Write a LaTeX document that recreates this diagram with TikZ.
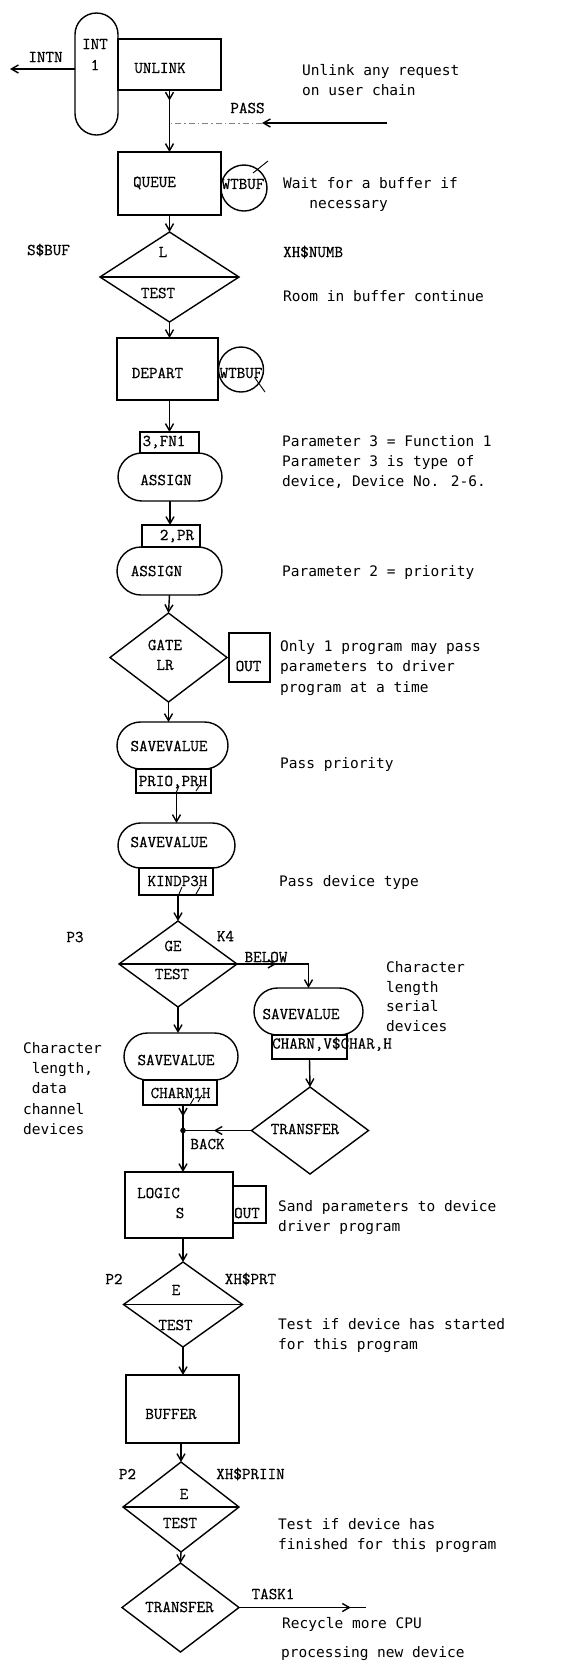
\documentclass[tikz,border=0pt]{standalone}
\usepackage{fontspec}
\usetikzlibrary{shapes.geometric,arrows.meta,decorations.markings}
\newfontfamily\lblfam[FakeBold=0.6]{Latin Modern Mono}
\newfontfamily\cmtfam{DejaVu Sans Mono}
\newcommand\lblfont{\lblfam\fontsize{16.6}{20}\selectfont}
\newcommand\cmtfont{\cmtfam\fontsize{14.5}{20}\selectfont}
\tikzset{
  shp/.style={draw, line width=1.4pt, inner sep=0pt, outer sep=0pt},
  blk/.style={shp, rectangle},
  pill/.style={shp, rectangle, rounded corners=#1},
  dia/.style={shp, diamond},
  lbl/.style={font=\lblfont, inner sep=0pt},
  cmt/.style={font=\cmtfont, inner sep=0pt, anchor=west, align=left},
  arr/.style={line width=1.4pt, -{Straight Barb[length=7pt,width=8pt]}},
  midarr/.style={line width=1.4pt, postaction={decorate},
    decoration={markings, mark=at position #1 with {\arrow{Straight Barb[length=7pt,width=8pt]}}}},
  tick/.style={line width=0.9pt},
}
\begin{document}
\begin{tikzpicture}[x=1pt,y=-1pt]
\useasboundingbox (0,0) rectangle (587,1666);

% ---- blocks of the main column ----
\node[shp, rounded corners=21.5pt, minimum width=43, minimum height=122] (int1) at (96.5,74) {};
\node[blk, minimum width=103, minimum height=51] (unlink) at (169.5,64.5) {};
\node[blk, minimum width=103, minimum height=63] (queue) at (169.5,183.5) {};
\node[shp, circle, minimum size=46] (wt1) at (244,188) {};
\node[dia, minimum width=139, minimum height=90] (d1) at (169.5,277) {};
\node[blk, minimum width=101, minimum height=62] (depart) at (167.5,369) {};
\node[shp, circle, minimum size=45] (wt2) at (241,369.5) {};
\node[blk, minimum width=59, minimum height=21] (fn1) at (169.5,442.5) {};
\node[pill=24pt, minimum width=104, minimum height=48] (assign1) at (170,477) {};
\node[blk, minimum width=58, minimum height=22] (pr) at (171,536) {};
\node[pill=24pt, minimum width=105, minimum height=48] (assign2) at (169.5,571) {};
\node[dia, minimum width=117, minimum height=89] (gate) at (168.5,657.5) {};
\node[blk, minimum width=41, minimum height=49] (out1) at (249.5,657.5) {};
\node[pill=23.5pt, minimum width=111, minimum height=47] (sv1) at (172.5,745.5) {};
\node[blk, minimum width=75, minimum height=24] (prio) at (173.5,781) {};
\node[pill=22.5pt, minimum width=117, minimum height=45] (sv2) at (176.5,845.5) {};
\node[blk, minimum width=74, minimum height=27] (kind) at (176,881.5) {};
\node[dia, minimum width=118, minimum height=86] (ge) at (178,964) {};
\node[pill=23.5pt, minimum width=109, minimum height=47] (svR) at (308.5,1011.5) {};
\node[blk, minimum width=75, minimum height=24] (charnv) at (309.5,1047) {};
\node[dia, minimum width=117, minimum height=87] (transR) at (310,1130.5) {};
\node[pill=23.5pt, minimum width=114, minimum height=47] (svL) at (181,1056.5) {};
\node[blk, minimum width=74, minimum height=25] (charn1) at (180,1092.5) {};
\node[blk, minimum width=108, minimum height=66] (logic) at (179,1205) {};
\node[blk, minimum width=33, minimum height=37] (out2) at (249.5,1204.5) {};
\node[dia, minimum width=119, minimum height=85] (e1) at (183,1304.5) {};
\node[blk, line width=2pt, minimum width=113, minimum height=68] (buffer) at (182.5,1409) {};
\node[dia, minimum width=116, minimum height=90] (e2) at (181,1507) {};
\node[dia, minimum width=117, minimum height=89] (trans2) at (180.5,1607.5) {};

% dividing lines of the test blocks
\draw[line width=1.4pt] (d1.west) -- (d1.east);
\draw[line width=1.4pt] (ge.west) -- (ge.east);
\draw[line width=1.4pt] (e1.west) -- (e1.east);
\draw[line width=1.4pt] (e2.west) -- (e2.east);

% strike marks on the WTBUF circles
\draw[line width=0.9pt] (253,173) -- (268,161);
\draw[line width=0.9pt] (255,378) -- (265,392);

% ---- block texts ----
\node[lbl] (tint) at (95,44) {INT};
\node[lbl] (tone) at (95,65) {1};
\node[lbl] (tunlink) at (160,68) {UNLINK};
\node[lbl] (tqueue) at (154.5,183) {QUEUE};
\node[lbl] (twt1) at (243,184) {WTBUF};
\node[lbl] (tl) at (163,252) {L};
\node[lbl] (ttest1) at (158,293) {TEST};
\node[lbl] (tdepart) at (157.5,373) {DEPART};
\node[lbl] (twt2) at (241,373) {WTBUF};
\node[lbl] (tfn1) at (164,442) {3,FN1};
\node[lbl] (tassign1) at (166,480) {ASSIGN};
\node[lbl] (tpr) at (177,536) {2,PR};
\node[lbl] (tassign2) at (156.5,571) {ASSIGN};
\node[lbl] (tgate) at (165,645) {GATE};
\node[lbl] (tlr) at (165,665) {LR};
\node[lbl] (tout1) at (248.5,666) {OUT};
\node[lbl] (tsv1) at (169,746) {SAVEVALUE};
\node[lbl] (tprio) at (173,782) {PRIO,PRH};
\node[lbl] (tsv2) at (169,842) {SAVEVALUE};
\node[lbl] (tkind) at (177.5,881) {KINDP3H};
\node[lbl] (tge) at (173,946) {GE};
\node[lbl] (ttest2) at (172,974) {TEST};
\node[lbl] (tsvR) at (301,1014) {SAVEVALUE};
\node[lbl] (tcharnv) at (332,1044) {CHARN,V\$CHAR,H};
\node[lbl] (ttransR) at (305,1129) {TRANSFER};
\node[lbl] (tsvL) at (176,1060) {SAVEVALUE};
\node[lbl] (tcharn1) at (180.5,1093) {CHARN1H};
\node[lbl] (tlogic) at (158.5,1193) {LOGIC};
\node[lbl] (ts) at (180,1213) {S};
\node[lbl] (tout2) at (247,1213) {OUT};
\node[lbl] (te1) at (176,1290) {E};
\node[lbl] (ttest3) at (175.5,1325) {TEST};
\node[lbl] (tbuffer) at (171,1414) {BUFFER};
\node[lbl] (te2) at (184,1494) {E};
\node[lbl] (ttest4) at (180,1523) {TEST};
\node[lbl] (ttrans2) at (179.5,1607) {TRANSFER};

% handwritten commas in the operand boxes
\draw[tick] (179,786) -- (176,793);
\draw[tick] (200,785) -- (196,791);
\draw[tick] (182,887) -- (179,894);
\draw[tick] (200,887) -- (196,894);
\draw[tick] (194,1098) -- (190,1105);
\draw[tick] (202,1095) -- (198,1102);

% ---- operand labels beside the blocks ----
\node[lbl] (tintn) at (45.5,57) {INTN};
\node[lbl] (tpass) at (247.5,108) {PASS};
\node[lbl] (tsbuf) at (48.5,250) {S\$BUF};
\node[lbl, anchor=west] (tnumb) at (283,252) {XH\$NUMB};
\node[lbl] (tp3) at (75,937) {P3};
\node[lbl] (tk4) at (225.5,936) {K4};
\node[lbl] (tbelow) at (266,957) {BELOW};
\node[lbl] (tback) at (207.5,1144) {BACK};
\node[lbl] (tp2a) at (114,1279) {P2};
\node[lbl] (tprt) at (250.5,1279) {XH\$PRT};
\node[lbl] (tp2b) at (127.5,1474) {P2};
\node[lbl] (tpriin) at (250.5,1474) {XH\$PRIIN};
\node[lbl] (ttask) at (273,1594) {TASK1};

% ---- comments ----
\node[cmt] (c1) at (302,80.5) {Unlink any request\\on user chain};
\node[cmt] (c2) at (283,194.5) {Wait for a buffer if\\\hphantom{abc}necessary};
\node[cmt] (c3) at (283,296) {Room in buffer continue};
\node[cmt] (c4) at (282,462) {Parameter 3 = Function 1\\Parameter 3 is type of\\device, Device No. 2-6.};
\node[cmt] (c5) at (282,572) {Parameter 2 = priority};
\node[cmt, font=\cmtfam\fontsize{14.5}{20.5}\selectfont] (c6) at (280,667.5) {Only 1 program may pass\\parameters to driver\\program at a time};
\node[cmt] (c7) at (280,764) {Pass priority};
\node[cmt] (c8) at (279,882) {Pass device type};
\node[cmt, font=\cmtfam\fontsize{14.5}{19.7}\selectfont] (c9) at (386,996.5) {Character\\length\\serial\\devices};
\node[cmt, font=\cmtfam\fontsize{14.5}{20.2}\selectfont] (c10) at (23,1088.5) {Character\\\hphantom{a}length,\\\hphantom{a}data\\channel\\devices};
\node[cmt] (c11) at (278,1218) {Sand parameters to device\\driver program};
\node[cmt] (c12) at (278,1336) {Test if device has started\\for this program};
\node[cmt] (c13) at (278,1535.5) {Test if device has\\finished for this program};
\node[cmt] (c14) at (282,1624) {Recycle more CPU};
\node[cmt] (c15) at (281,1654) {processing new device};

% ---- connectors ----
\coordinate (j1) at (169.5,123);
\coordinate (passin) at (387,123);
\coordinate (passtip) at (262,123);
\coordinate (intnend) at (10,69);
\draw[midarr=0.32] (unlink.south) -- (j1);
\draw[arr] (j1) -- (queue.north);
\draw[arr] (passin) -- (passtip);
\draw[line width=0.8pt, gray, dash pattern=on 6pt off 3pt on 1.5pt off 3pt] (passtip) -- (j1);
\draw[arr] (int1.west |- intnend) -- (intnend);
\draw[arr] (queue.south) -- (d1.north);
\draw[arr] (d1.south) -- (d1.south |- depart.north);
\draw[arr] (depart.south -| fn1.north) -- (fn1.north);
\draw[arr] (assign1.south) -- (assign1.south |- pr.north);
\draw[arr] (assign2.south) -- (gate.north);
\draw[arr] (gate.south) -- (gate.south |- sv1.north);
\draw[arr] (prio.south -| sv2.north) -- (sv2.north);
\draw[arr] (kind.south -| ge.north) -- (ge.north);
\coordinate (belowc) at (svR.north |- ge.east);
\draw[midarr=0.55] (ge.east) -- (belowc);
\draw[arr] (belowc) -- (svR.north);
\draw[arr] (ge.south) -- (ge.south |- svL.north);
\draw[arr] (charnv.south) -- (transR.north);
\coordinate (dot) at (183,1130.5);
\draw[midarr=0.45] (charn1.south -| dot) -- (dot);
\draw[midarr=0.55] (transR.west) -- (dot);
\fill (dot) circle (2.8pt);
\draw[arr] (dot) -- (dot |- logic.north);
\draw[arr] (logic.south -| e1.north) -- (e1.north);
\draw[arr] (e1.south) -- (e1.south |- buffer.north);
\draw[arr] (buffer.south -| e2.north) -- (e2.north);
\draw[arr] (e2.south) -- (trans2.north);
\coordinate (task) at (366,1607.5);
\draw[midarr=0.88] (trans2.east) -- (task);
\end{tikzpicture}
\end{document}
